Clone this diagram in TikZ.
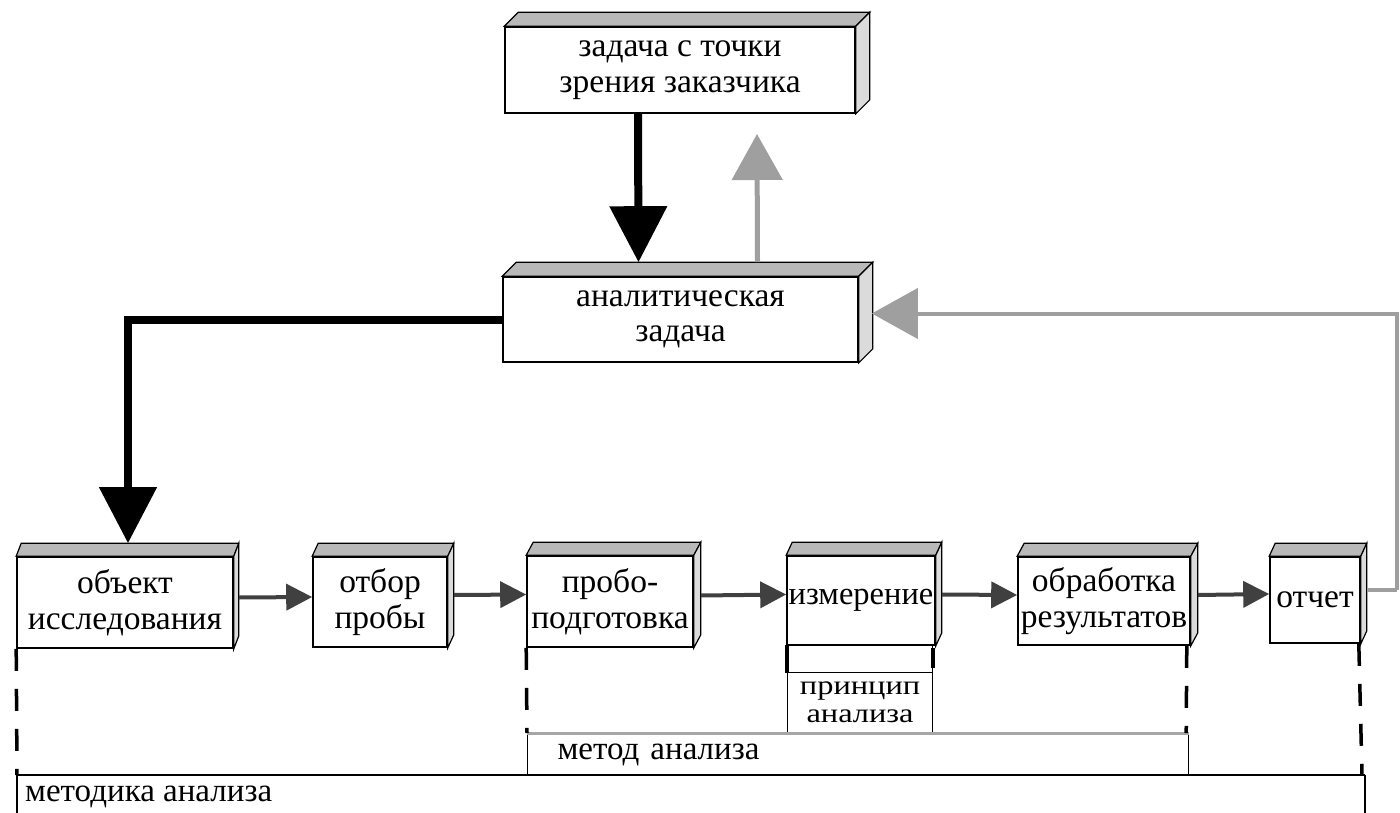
\documentclass[tikz,border=0pt]{standalone}
\usepackage{fontspec}
\setmainfont{Liberation Serif}
\newfontfamily\widefont[FakeStretch=1.2]{Liberation Serif}
\usetikzlibrary{arrows.meta}
\newcommand\boxfaces[3]{%
  \draw[topface] (#1.north west) -- ++(#2,-#3) -- ([shift={(#2,-#3)}]#1.north east) -- (#1.north east) -- cycle;
  \draw[sideface] (#1.north east) -- ++(#2,-#3) -- ([shift={(#2,-#3)}]#1.south east) -- (#1.south east) -- cycle;}
\begin{document}
\begin{tikzpicture}[x=1pt,y=-1pt,
  frontbox/.style={draw, line width=1.6pt, fill=white, inner sep=0pt, align=center,
    font=\fontsize{33.5}{35.5}\selectfont},
  topface/.style={draw, line width=1.2pt, fill=gray!55},
  sideface/.style={draw, line width=1.2pt, fill=gray!28},
  plainbox/.style={draw, line width=1.2pt, inner sep=0pt, align=center,
    font=\widefont\fontsize{27}{28}\selectfont},
  bigarrow/.style={line width=8pt, -{Triangle[length=56pt,width=56pt]}},
  grayarrow/.style={gray!75, line width=5pt, -{Triangle[length=46pt,width=50pt]}},
  flowarrow/.style={black!75, line width=4pt, -{Triangle[length=26pt,width=26pt]}},
  dashline/.style={line width=3.5pt, dash pattern=on 22pt off 18pt},
  lbl/.style={font=\fontsize{33}{35}\selectfont, inner sep=0pt, anchor=west}
]
\useasboundingbox (0,0) rectangle (1400,813);

% top boxes
\node[frontbox, minimum width=350pt, minimum height=86pt] (zak) at (680,70)
  {задача с точки\\зрения заказчика};
\boxfaces{zak}{14}{14}
\node[frontbox, minimum width=355pt, minimum height=85pt] (anal) at (680.5,319.5)
  {аналитическая\\задача};
\boxfaces{anal}{14}{14}

% bottom row
\node[frontbox, minimum width=216pt, minimum height=91pt] (obj) at (125,602.5)
  {объект\\исследования};
\boxfaces{obj}{5}{13}
\node[frontbox, minimum width=134pt, minimum height=90pt] (otb) at (380,602)
  {отбор\\пробы};
\boxfaces{otb}{6}{13}
\node[frontbox, minimum width=166pt, minimum height=91pt] (prob) at (610,601.5)
  {пробо-\\подготовка};
\boxfaces{prob}{7}{13}
\node[frontbox, minimum width=148pt, minimum height=89pt] (izm) at (861,600.5)
  {\fontsize{32.5}{34}\selectfont измерение};
\boxfaces{izm}{6}{13}
\node[frontbox, minimum width=172pt, minimum height=88pt] (obr) at (1104,601)
  {обработка\\результатов};
\boxfaces{obr}{7}{13}
\node[frontbox, minimum width=90pt, minimum height=86pt] (otch) at (1315,600)
  {отчет};
\boxfaces{otch}{6}{13}

% below measurement
\node[plainbox, minimum width=145pt, minimum height=27pt, anchor=north west] (gap) at (787,645) {};
\draw[line width=4pt] (gap.north west) -- (gap.south west);
\draw[line width=4pt] ([yshift=-3pt]gap.north east) -- ([yshift=5pt]gap.south east);
\node[plainbox, minimum width=145pt, minimum height=60pt, anchor=north west] (princ) at (787,672)
  {принцип\\анализа};

% method box
\node[draw, line width=1.2pt, minimum width=661pt, minimum height=42pt, text width=601pt,
  inner xsep=30pt, inner ysep=0pt, align=left, anchor=north west,
  font=\fontsize{33}{35}\selectfont] (metod) at (527,733) {метод анализа};
\draw[gray!70, line width=3pt] (metod.north west) -- (metod.north east);

% methodology box (bottom cut by the page)
\coordinate (mtl) at (17,775);
\coordinate (mtr) at (1365,775);
\draw[line width=1.2pt] (17,820) -- (mtl);
\draw[line width=2.5pt] (mtl) -- (mtr);
\draw[line width=1.2pt] (mtr) -- (1365,820);
\node[lbl] (metodika) at (25,797) {методика анализа};

% dashed verticals
\draw[dashline] (obj.south west) -- (mtl);
\draw[dashline] (prob.south west) -- (metod.north west);
\draw[dashline] ([xshift=-4pt]obr.south east) -- ([xshift=-3pt]metod.north east);
\draw[dashline] ([xshift=-2pt]otch.south east) -- ([xshift=-3pt]mtr);

% arrows
\draw[bigarrow] ([xshift=-42pt]zak.south) -- ([xshift=-42pt,yshift=14pt]anal.north);
\coordinate (upend) at (757,134);
\draw[grayarrow] ([xshift=77pt,yshift=14pt]anal.north) -- (upend);
\draw[bigarrow] (anal.west) -| ([xshift=3pt,yshift=13pt]obj.north);

\draw[flowarrow] ([xshift=5pt,yshift=5pt]obj.east) -- ([yshift=5pt]otb.west);
\draw[flowarrow] ([xshift=6pt,yshift=7pt]otb.east) -- ([yshift=7pt]prob.west);
\draw[flowarrow] ([xshift=7pt,yshift=6pt]prob.east) -- ([yshift=6pt]izm.west);
\draw[flowarrow] ([xshift=6pt,yshift=6pt]izm.east) -- ([yshift=6pt]obr.west);
\draw[flowarrow] ([xshift=7pt,yshift=6pt]obr.east) -- ([yshift=6pt]otch.west);

\coordinate (fbcorner) at (1397,590);
\draw[gray!75, line width=4pt] ([xshift=6pt,yshift=10pt]otch.east) -- (fbcorner);
\draw[grayarrow, line width=4pt] (fbcorner) |- ([xshift=13pt,yshift=6pt]anal.east);
\end{tikzpicture}
\end{document}
